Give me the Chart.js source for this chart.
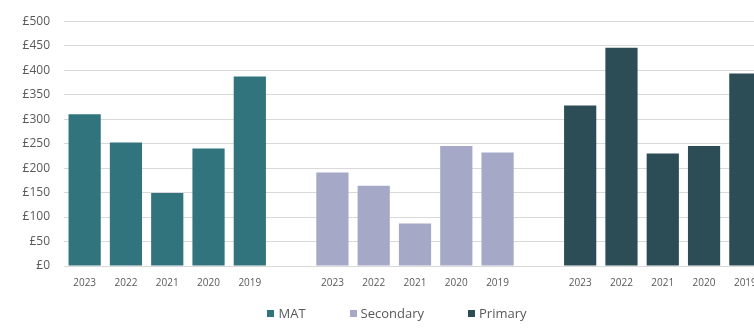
<!DOCTYPE html>
<html>
<head>
<meta charset="utf-8">
<script src="https://cdn.jsdelivr.net/npm/chart.js@4/dist/chart.umd.min.js"></script>
<style>
  html, body { margin: 0; padding: 0; background: #fff; overflow: hidden; }
  #wrap { position: relative; width: 794px; height: 331px; }
  #legend {
    position: absolute; left: 0; top: 304px; width: 794px;
    display: flex; justify-content: center;
    font: 13px "Open Sans", sans-serif; color: #595959;
  }
  #legend span.item { display: inline-flex; align-items: center; margin: 0 22px; }
  #legend i { display: inline-block; width: 7px; height: 7px; margin-right: 4px; }
</style>
</head>
<body>
<div id="wrap">
  <canvas id="spend"></canvas>
  <div id="legend"></div>
</div>
<script>
// one block of five years per phase, blank slot between blocks
const years = ['2023', '2022', '2021', '2020', '2019'];
const mat = [310, 252, 149, 240, 387];
const secondary = [191, 164, 87, 245, 232];
const primary = [328, 446, 230, 245, 393];

const seriesNames = ['MAT', 'Secondary', 'Primary'];
const seriesColours = ['#31747e', '#a5a9c7', '#2c4d56'];
const seriesValues = [mat, secondary, primary];

const yTicks = [0, 50, 100, 150, 200, 250, 300, 350, 400, 450, 500];

// labels: 2023..2019, '', 2023..2019, '', 2023..2019
const labels = [];
seriesValues.forEach((s, i) => {
    if (i > 0) labels.push('');
    labels.push(...years);
});

// each series only fills its own block, nulls elsewhere
const datasets = seriesValues.map((vals, i) => {
    const data = new Array(labels.length).fill(null);
    const offset = i * (years.length + 1);
    vals.forEach((v, j) => { data[offset + j] = v; });
    return {
        label: seriesNames[i],
        data,
        backgroundColor: seriesColours[i],
        grouped: false,
        barPercentage: 0.78,
        categoryPercentage: 1
    };
});

new Chart(document.getElementById('spend'), {
    type: 'bar',
    data: { labels, datasets },
    options: {
        responsive: true,
        maintainAspectRatio: false,
        animation: false,
        layout: { padding: { top: 19, right: 28, bottom: 0, left: 0 } },
        plugins: { legend: { display: false }, tooltip: { enabled: false } },
        scales: {
            x: {
                grid: { display: false },
                border: { display: false },
                ticks: {
                    autoSkip: false,
                    maxRotation: 0,
                    padding: 3,
                    color: '#595959',
                    font: { family: 'Open Sans', size: 10 }
                },
                afterFit: (scale) => { scale.height = 65; }
            },
            y: {
                min: 0,
                max: 500,
                afterBuildTicks: (scale) => { scale.ticks = yTicks.map(v => ({ value: v })); },
                grid: { color: '#d9d9d9', drawTicks: false },
                border: { display: false },
                ticks: {
                    padding: 14,
                    color: '#595959',
                    font: { family: 'Open Sans', size: 12 },
                    callback: (v) => '£' + v
                },
                afterFit: (scale) => { scale.width = 64; }
            }
        }
    }
});

// legend row under the plot
const legend = document.getElementById('legend');
seriesNames.forEach((name, i) => {
    const item = document.createElement('span');
    item.className = 'item';
    const box = document.createElement('i');
    box.style.background = seriesColours[i];
    item.appendChild(box);
    item.appendChild(document.createTextNode(name));
    legend.appendChild(item);
});
</script>
</body>
</html>
